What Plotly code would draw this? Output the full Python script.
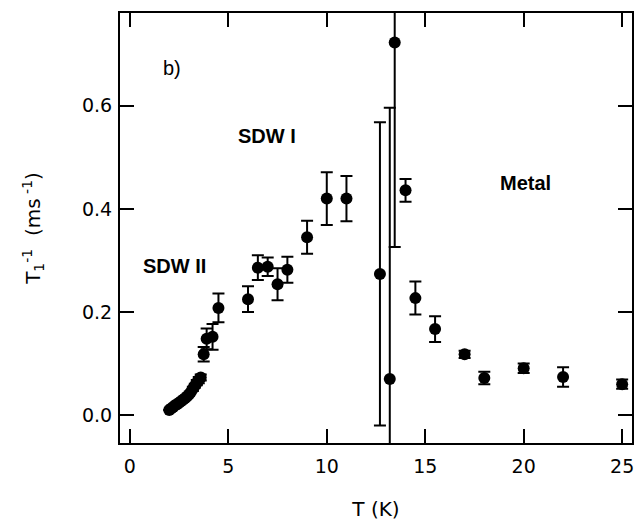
import plotly.graph_objects as go

# Spin-lattice relaxation rate vs temperature
temperature = [2.0, 2.1, 2.2, 2.3, 2.4, 2.5, 2.6, 2.7, 2.8, 2.9, 3.0, 3.1, 3.2,
               3.3, 3.4, 3.5, 3.6, 3.75, 3.9, 4.2, 4.5, 6.0, 6.5, 7.0, 7.5,
               8.0, 9.0, 10.0, 11.0, 12.7, 13.2, 13.45, 14.0, 14.5, 15.5,
               17.0, 18.0, 20.0, 22.0, 25.0]
rate = [0.010, 0.013, 0.016, 0.019, 0.021, 0.024, 0.027, 0.030, 0.033, 0.036,
        0.040, 0.045, 0.051, 0.057, 0.063, 0.068, 0.073, 0.118, 0.148, 0.152,
        0.208, 0.225, 0.286, 0.288, 0.254, 0.282, 0.345, 0.420, 0.420, 0.274,
        0.070, 0.723, 0.436, 0.227, 0.167, 0.118, 0.072, 0.091, 0.074, 0.060]
rate_err = [0.0, 0.0, 0.0, 0.0, 0.0, 0.0, 0.0, 0.0, 0.0, 0.0,
            0.0, 0.0, 0.004, 0.004, 0.005, 0.006, 0.006, 0.014, 0.020, 0.025,
            0.028, 0.025, 0.024, 0.018, 0.031, 0.025, 0.032, 0.051, 0.044, 0.294,
            0.526, 0.397, 0.022, 0.032, 0.025, 0.007, 0.012, 0.009, 0.019, 0.009]

x_ticks = [0, 5, 10, 15, 20, 25]
y_ticks = [0.0, 0.2, 0.4, 0.6]

phase_labels = ["b)", "<b>SDW I</b>", "<b>SDW II</b>", "<b>Metal</b>"]
phase_x = [2.13, 6.95, 2.28, 20.1]
phase_y = [0.674, 0.542, 0.289, 0.45]

fig = go.Figure()
fig.add_trace(go.Scatter(
    x=temperature, y=rate, mode="markers",
    marker=dict(color="black", size=12, line=dict(width=0)),
    error_y=dict(type="data", array=rate_err, visible=True,
                 color="black", thickness=2, width=6),
    showlegend=False,
))

for txt, tx, ty in zip(phase_labels, phase_x, phase_y):
    fig.add_annotation(x=tx, y=ty, text=txt, showarrow=False,
                       font=dict(family="Liberation Sans", size=20, color="black"),
                       xanchor="center", yanchor="middle")

axis_common = dict(
    showgrid=False, zeroline=False, showline=True, linecolor="black",
    linewidth=2, mirror="ticks", ticks="inside", ticklen=14, tickwidth=2,
    tickcolor="black", automargin=False,
    tickfont=dict(family="DejaVu Sans", size=19, color="black"),
)

fig.update_xaxes(range=[-0.5, 25.5], tickvals=x_ticks, ticklabelstandoff=5,
                 title=dict(text="T (K)", font=dict(family="DejaVu Sans", size=20, color="black"),
                            standoff=28),
                 **axis_common)
fig.update_yaxes(range=[-0.054, 0.78], tickvals=y_ticks, tickformat=".1f",
                 ticklabelstandoff=2,
                 title=dict(text="T<sub>1</sub><sup>-1</sup>  (ms<sup> -1</sup>)",
                            font=dict(family="DejaVu Sans", size=20, color="black"),
                            standoff=36),
                 **axis_common)

fig.update_layout(
    width=643, height=521,
    margin=dict(l=120, r=11, t=13, b=78),
    paper_bgcolor="white", plot_bgcolor="white",
)

fig.write_html("out.html")
